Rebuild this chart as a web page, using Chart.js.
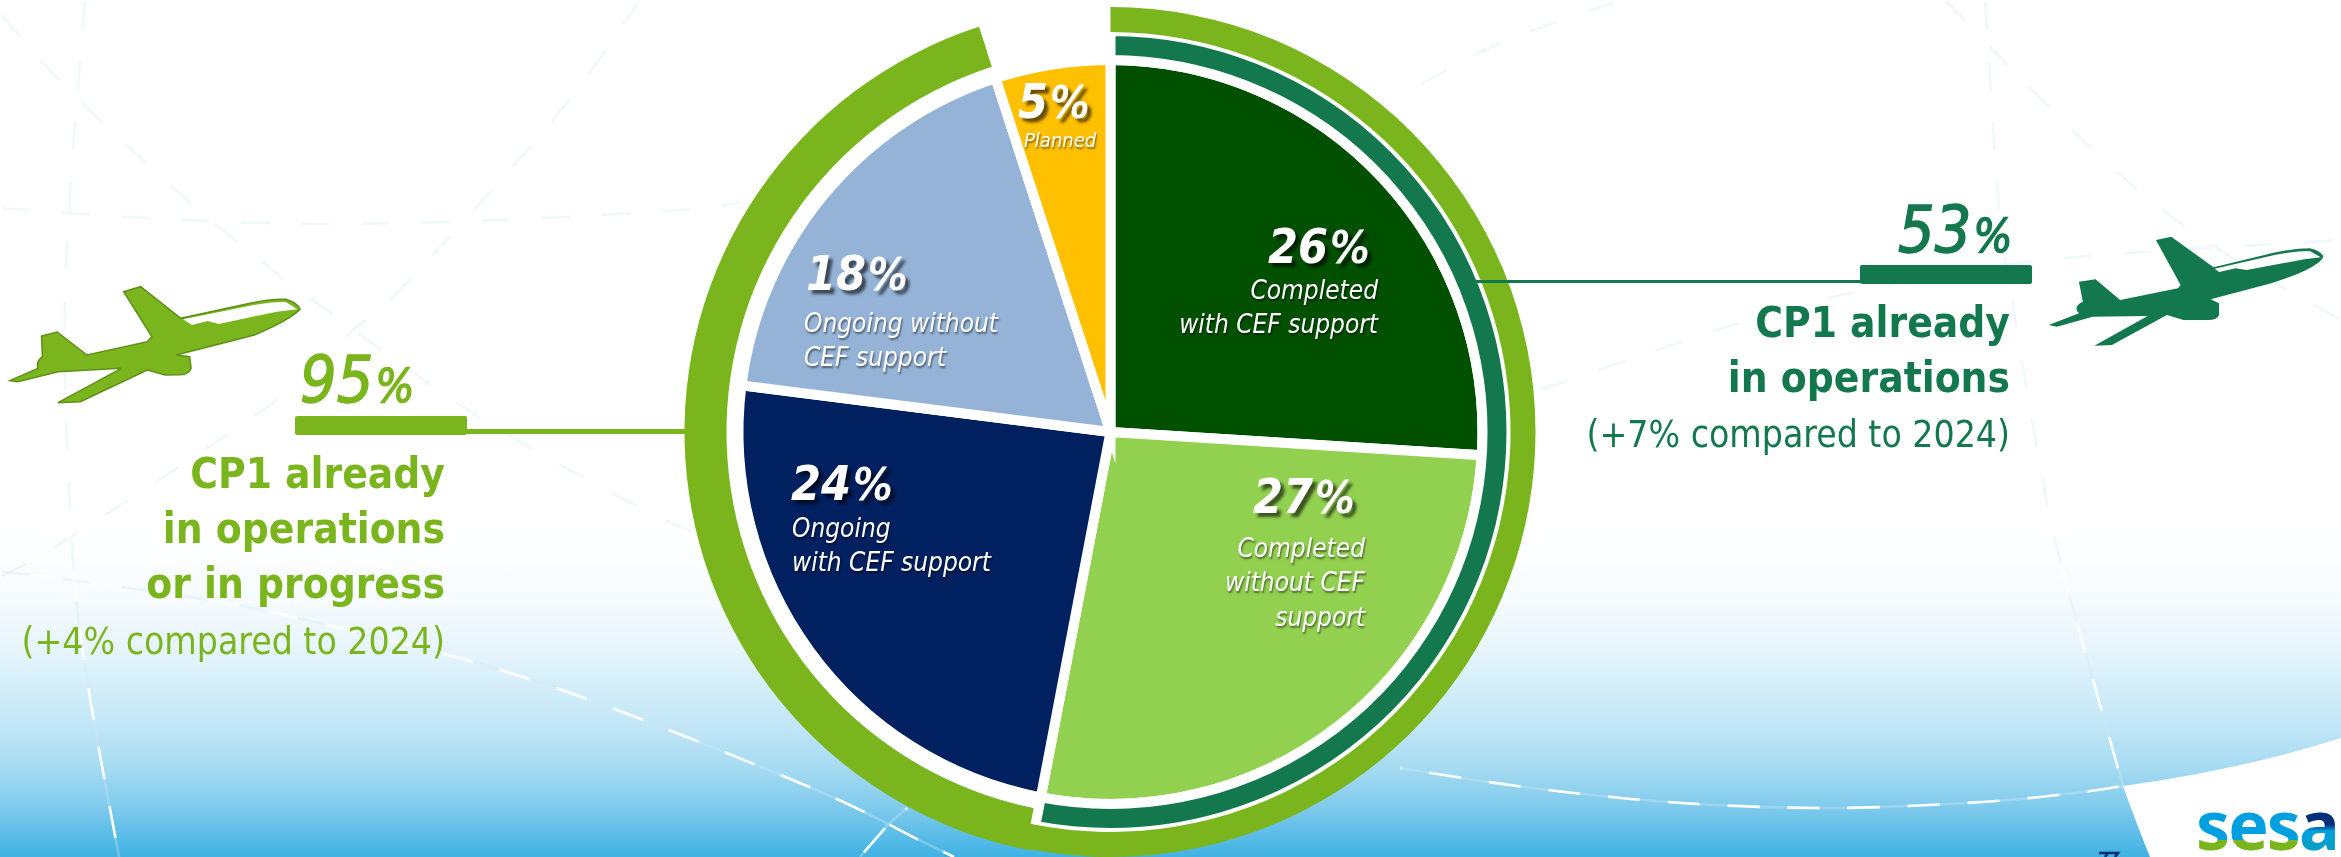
<!DOCTYPE html>
<html>
<head>
<meta charset="utf-8">
<title>CP1 implementation status</title>
<script src="https://cdn.jsdelivr.net/npm/chart.js@4"></script>
<style>
  html, body { margin: 0; padding: 0; background: #fff; }
  #page { position: relative; width: 2341px; height: 857px; overflow: hidden;
    background: linear-gradient(to bottom, #ffffff 0, #ffffff 530px, #f6fbfe 600px, #e2f3fb 660px,
      #bfe5f6 730px, #a4daf1 770px, #7cc9ec 810px, #3fb2e3 857px); }
  #backdrop, #chart { position: absolute; left: 0; top: 0; }
</style>
</head>
<body>
<div id="page">
  <svg id="backdrop" width="2341" height="857" viewBox="0 0 2341 857">
    <defs>
      <linearGradient id="logoGreen" gradientUnits="userSpaceOnUse" x1="0" y1="0" x2="0" y2="857">
        <stop offset="0.98" stop-color="#009fdf"/><stop offset="0.98" stop-color="#7ab51d"/>
      </linearGradient>
      <linearGradient id="logoNavy" gradientUnits="userSpaceOnUse" x1="0" y1="810" x2="0" y2="852">
        <stop offset="0.35" stop-color="#002f7a"/><stop offset="0.5" stop-color="#009fdf"/><stop offset="1" stop-color="#0b9fc0"/>
      </linearGradient>
    </defs>
    <g id="routes" fill="none" stroke-width="2.6"></g>
    <path d="M2123,786 Q2240,770 2341,738 L2341,857 L2150,857 Q2135,820 2123,786 Z" fill="#fff"/>
    <path d="M2099,853 L2118,853 L2115,857 M2108,853 L2105,857" fill="none" stroke="#002f7a" stroke-width="2.5"/>
    <text x="2196" y="850" font-family="Noto Sans" font-weight="700" font-size="68" letter-spacing="-2"><tspan fill="url(#logoGreen)">ses</tspan><tspan fill="url(#logoNavy)">ar</tspan></text>

    <!-- aircraft silhouettes -->
    <g transform="translate(0,260) scale(0.4464,0.3333)">
      <path fill="#7ab51d" stroke="#5f8f18" stroke-width="1.5" vector-effect="non-scaling-stroke"
        d="M22,362 L85,325 Q80,305 95,290 L93,228 L128,216 L195,285 L330,245 L340,230 L310,165 L277,95 L315,80 L405,175 L560,130 Q610,116 640,118 Q668,130 672,148 Q650,180 570,225 L395,285 L425,290 L428,325 Q425,342 405,344 L370,345 L330,330 L180,425 L130,428 L272,325 L130,335 L40,365 Z"/>
      <path fill="#fff" d="M410,178 L560,137 Q610,124 640,126 L666,148 L620,155 L490,192 L465,183 L430,195 Z"/>
    </g>
    <g transform="translate(1480,180) scale(0.5495,0.3333)">
      <path fill="#14784f"
        d="M1035,435 L1090,400 Q1078,380 1097,365 L1090,305 L1120,298 L1165,360 L1270,325 L1275,315 L1230,180 L1258,170 L1335,262 L1440,220 Q1480,205 1510,205 Q1530,212 1535,230 Q1525,265 1440,310 L1330,358 L1345,370 L1345,405 Q1342,420 1325,420 L1280,420 L1250,405 L1150,495 L1118,497 L1215,408 L1115,410 L1050,440 Z"/>
      <path fill="#fff" d="M1337,266 L1440,227 Q1480,213 1510,213 L1530,232 L1500,238 L1395,270 L1375,265 L1345,276 Z"/>
    </g>
  </svg>
  <canvas id="chart" width="2341" height="857"></canvas>
</div>

<script>
// Status of the CP1 deployment, in percent of implementation projects.
const sliceLabels = [
  ['Completed', 'with CEF support'],
  ['Completed', 'without CEF', 'support'],
  ['Ongoing', 'with CEF support'],
  ['Ongoing without', 'CEF support'],
  ['Planned']
];
const sliceValues = [26, 27, 24, 18, 5];
const sliceColors = ['#005000', '#92d050', '#002060', '#95b3d7', '#ffc000'];

// Summary rings around the pie.
const inOperationsShare = [53, 47];
const inProgressOrOperationsShare = [95, 5];
const inProgressOnlyShare = [53, 42, 5];
const summaryHeadings = {
  operations: ['CP1 already', 'in operations'],
  progress: ['CP1 already', 'in operations', 'or in progress']
};
const summaryNotes = { operations: '(+7% compared to 2024)', progress: '(+4% compared to 2024)' };

const TEAL = '#14784f';
const LEAF = '#7ab51d';
const FONT = '"DejaVu Sans Condensed", "DejaVu Sans"';

// Radial extent of each arc, by dataset, then by element.
const ringBands = [
  [[400, 425], [0, 0]],
  [[372, 401], [0, 0]],
  [[0, 0], [384, 426], [0, 0]],
  [[0, 372], [0, 372], [0, 372], [0, 372], [0, 372]]
];

// Text placement for the slice captions: left or right anchor and baselines.
const sliceCaptionLayout = [
  { valueX: 1268, valueY: 263, align: 'right', x: 1378, lines: [299, 333], size: 26 },
  { valueX: 1253, valueY: 513, align: 'right', x: 1365, lines: [557, 591, 626], size: 26 },
  { valueX: 791,  valueY: 500, align: 'left',  x: 792,  lines: [537, 571], size: 26 },
  { valueX: 806,  valueY: 290, align: 'left',  x: 804,  lines: [332, 366], size: 26 },
  { valueX: 1018, valueY: 118, align: 'left',  x: 1024, lines: [147], size: 20 }
];

// Catmull-Rom smoothing for the faint flight routes behind the chart.
function smoothPath(p) {
  let d = `M${p[0][0]},${p[0][1]}`;
  for (let i = 0; i < p.length - 1; i++) {
    const a = p[Math.max(i - 1, 0)], b = p[i], c = p[i + 1], e = p[Math.min(i + 2, p.length - 1)];
    d += ` C${b[0] + (c[0] - a[0]) / 6},${b[1] + (c[1] - a[1]) / 6} ${c[0] - (e[0] - b[0]) / 6},${c[1] - (e[1] - b[1]) / 6} ${c[0]},${c[1]}`;
  }
  return d;
}
const routes = [
  [[0,571],[107,585],[237,605],[335,627],[477,663],[617,710],[821,792],[919,840],[954,857]],
  [[1400,768],[1532,788],[1682,803],[1832,808],[1982,802],[2075,793],[2123,786]],
  [[85,0],[65,290],[71,527],[85,667],[119,857]],
  [[0,208],[150,218],[312,224],[500,220],[678,210],[740,203]],
  [[0,13],[67,88],[187,200],[290,283],[473,413],[638,507],[696,533]],
  [[640,0],[553,120],[395,295],[353,330],[277,400],[71,537],[0,577]],
  [[1540,390],[1733,325],[1865,290],[2046,260],[2341,240]],
  [[1945,0],[2090,147],[2197,235],[2341,320]],
  [[1985,0],[1999,207],[2010,287],[2039,460],[2060,560],[2123,786]],
  [[1615,2],[1500,43],[1420,85]],
  [[907,808],[888,825],[860,857]]
];
const routeLayer = document.getElementById('routes');
routes.forEach(points => {
  [['rgba(207,234,247,0.32)', 0], ['#ffffff', 30]].forEach(([color, shift]) => {
    const path = document.createElementNS('http://www.w3.org/2000/svg', 'path');
    path.setAttribute('d', smoothPath(points));
    path.setAttribute('stroke', color);
    path.setAttribute('stroke-dasharray', '32 28');
    path.setAttribute('stroke-dashoffset', shift);
    routeLayer.appendChild(path);
  });
});

function putText(ctx, text, x, y, font, color, align, shadow, heavier) {
  ctx.save();
  ctx.font = font;
  ctx.fontStretch = 'condensed';
  ctx.fillStyle = color;
  ctx.textAlign = align;
  ctx.textBaseline = 'alphabetic';
  if (shadow) {
    ctx.shadowColor = shadow.color;
    ctx.shadowOffsetX = shadow.dx;
    ctx.shadowOffsetY = shadow.dy;
    ctx.shadowBlur = shadow.blur;
  }
  ctx.fillText(text, x, y);
  if (heavier) {
    ctx.shadowColor = 'transparent';
    ctx.strokeStyle = color;
    ctx.lineWidth = heavier;
    ctx.strokeText(text, x, y);
  }
  ctx.restore();
}

// Draws a percentage with a smaller % sign, starting at x.
function putPercent(ctx, value, x, y, style, size, ratio, color, shadow, heavier) {
  const digits = `${style} ${size}px ${FONT}`;
  const sign = `${style} ${Math.round(size * ratio)}px ${FONT}`;
  ctx.save();
  ctx.font = digits;
  ctx.fontStretch = 'condensed';
  const width = ctx.measureText(String(value)).width;
  ctx.restore();
  putText(ctx, String(value), x, y, digits, color, 'left', shadow, heavier);
  putText(ctx, '%', x + width + 2, y, sign, color, 'left', shadow, heavier);
}

const ringRadii = {
  id: 'ringRadii',
  afterDatasetsUpdate(chart) {
    chart.data.datasets.forEach((_, d) => {
      chart.getDatasetMeta(d).data.forEach((arc, i) => {
        arc.innerRadius = ringBands[d][i][0];
        arc.outerRadius = ringBands[d][i][1];
      });
    });
  },
  beforeDatasetsDraw(chart) {
    // White disc that separates the pie from the left-hand ring.
    const { x, y } = chart.getDatasetMeta(0).data[0];
    const ctx = chart.ctx;
    ctx.save();
    ctx.fillStyle = '#fff';
    ctx.beginPath();
    ctx.arc(x, y, 384, 0, Math.PI * 2);
    ctx.fill();
    ctx.restore();
  }
};

const captions = {
  id: 'captions',
  afterDraw(chart) {
    const ctx = chart.ctx;
    // Connectors and bars of the two summaries.
    ctx.save();
    ctx.fillStyle = TEAL;
    ctx.fillRect(1475, 280, 390, 3);
    ctx.beginPath(); ctx.roundRect(1860, 265, 172, 19, 2); ctx.fill();
    ctx.fillStyle = LEAF;
    ctx.fillRect(460, 429, 226, 5);
    ctx.beginPath(); ctx.roundRect(295, 416, 172, 19, 2); ctx.fill();
    ctx.restore();

    // Slice captions.
    sliceCaptionLayout.forEach((t, i) => {
      putPercent(ctx, sliceValues[i], t.valueX, t.valueY, 'italic bold', 48, 0.92, '#fff',
        { color: 'rgba(0,0,0,0.6)', dx: 4, dy: 4, blur: 3 });
      sliceLabels[i].forEach((line, k) => {
        putText(ctx, line, t.x, t.lines[k], `italic ${t.size}px ${FONT}`, '#fff', t.align,
          { color: 'rgba(0,0,0,0.5)', dx: 1, dy: 2, blur: 2 });
      });
    });

    // Right-hand summary.
    putPercent(ctx, inOperationsShare[0], 1898, 252, 'italic', 64, 0.72, TEAL, null, 1.4);
    summaryHeadings.operations.forEach((line, k) =>
      putText(ctx, line, 2010, [337, 392][k], `bold 42px ${FONT}`, TEAL, 'right'));
    putText(ctx, summaryNotes.operations, 2010, 447, `37px ${FONT}`, TEAL, 'right');

    // Left-hand summary.
    putPercent(ctx, inProgressOrOperationsShare[0], 300, 402, 'italic', 64, 0.72, LEAF, null, 1.4);
    summaryHeadings.progress.forEach((line, k) =>
      putText(ctx, line, 445, [488, 543, 598][k], `bold 42px ${FONT}`, LEAF, 'right'));
    putText(ctx, summaryNotes.progress, 445, 654, `37px ${FONT}`, LEAF, 'right');
  }
};

new Chart(document.getElementById('chart'), {
  type: 'doughnut',
  data: {
    labels: sliceLabels.map(l => l.join(' ')),
    datasets: [
      { label: 'Already in operations or in progress', data: inProgressOrOperationsShare,
        backgroundColor: [LEAF, 'transparent'], borderWidth: 0 },
      { label: 'Already in operations', data: inOperationsShare,
        backgroundColor: [TEAL, 'transparent'], borderColor: ['#fff', 'transparent'],
        borderWidth: [10, 0], borderJoinStyle: 'round' },
      { label: 'In progress', data: inProgressOnlyShare,
        backgroundColor: ['transparent', LEAF, 'transparent'], borderWidth: 0 },
      { label: 'Status', data: sliceValues,
        backgroundColor: sliceColors, borderColor: '#fff', borderWidth: 10, borderJoinStyle: 'miter' }
    ]
  },
  options: {
    responsive: false,
    animation: false,
    rotation: 0,
    layout: { padding: { top: 7, right: 120 } },
    plugins: { legend: { display: false }, title: { display: false }, tooltip: { enabled: false } }
  },
  plugins: [ringRadii, captions]
});
</script>
</body>
</html>
